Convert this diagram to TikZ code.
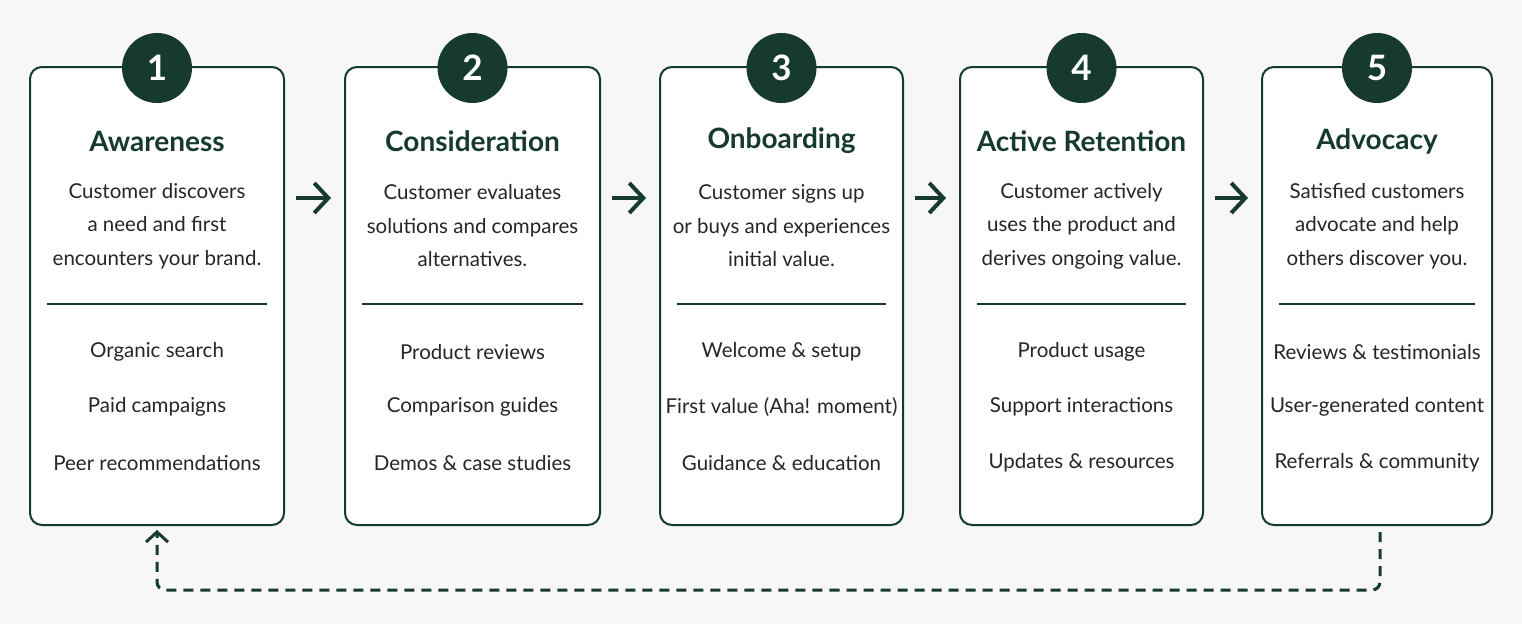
\documentclass[tikz,border=0pt]{standalone}
\usepackage{fontspec}
\setmainfont{Lato}
\usetikzlibrary{arrows.meta}
\definecolor{dg}{HTML}{173A2E}
\begin{document}
\begin{tikzpicture}[x=1pt,y=-1pt,
 box/.style={draw=dg,line width=2pt,rounded corners=12pt},
 num/.style={circle,fill=dg,text=white,minimum size=70pt,font=\fontsize{35}{35}\selectfont\bfseries},
 ttl/.style={text=dg,font=\fontsize{28}{28}\selectfont\bfseries},
 txt/.style={text=black!85,font=\fontsize{20.5}{33.5}\selectfont,align=center},
 arr/.style={draw=dg,line width=4pt,-{Straight Barb[length=14pt,width=30pt,line width=4pt]}}]
\fill[white!97!black] (0,0) rectangle (1522,624);
\useasboundingbox (0,0) rectangle (1522,624);
\foreach \i/\l/\r/\t/\d/\a/\b/\c in {
1/30/284/Awareness/{Customer discovers\\a need and first\\encounters your brand.}/Organic search/Paid campaigns/Peer recommendations,
2/345/600/Consideration/{Customer evaluates\\solutions and compares\\alternatives.}/Product reviews/Comparison guides/Demos \& case studies,
3/660/903/Onboarding/{Customer signs up\\or buys and experiences\\initial value.}/Welcome \& setup/First value (Aha! moment)/Guidance \& education,
4/960/1203/Active Retention/{Customer actively\\uses the product and\\derives ongoing value.}/Product usage/Support interactions/Updates \& resources,
5/1262/1492/Advocacy/{Satisfied customers\\advocate and help\\others discover you.}/Reviews \& testimonials/User-generated content/Referrals \& community}{
 \pgfmathsetmacro\m{(\l+\r)/2}
 \draw[box,fill=white] (\l,67) rectangle (\r,525);
 \node[num] (n\i) at (\m,68) {\i};
 \node[ttl] (t\i) at (\m,141) {\t};
 \node[txt] (d\i) at (\m,226) {\d};
 \draw[dg,line width=1.8pt] (\l+17,304) -- (\r-17,304);
 \node[txt] (a\i) at (\m,352) {\a};
 \node[txt] (b\i) at (\m,407) {\b};
 \node[txt] (c\i) at (\m,463) {\c};
 \coordinate (L\i) at (\l,198);
 \coordinate (R\i) at (\r,198);
}
\foreach \i/\j in {1/2,2/3,3/4,4/5}{
 \draw[arr] ([xshift=12pt]R\i) -- ([xshift=-14pt]L\j);
}
\coordinate (s) at (1380,532);
\coordinate (e) at (157,530);
\draw[dg,line width=3pt,dash pattern=on 10pt off 7pt,rounded corners=8pt,-{Straight Barb[length=10pt,width=22pt,line width=3pt]}]
 (s) -- (1380,590) -- (157,590) -- (e);
\end{tikzpicture}
\end{document}
